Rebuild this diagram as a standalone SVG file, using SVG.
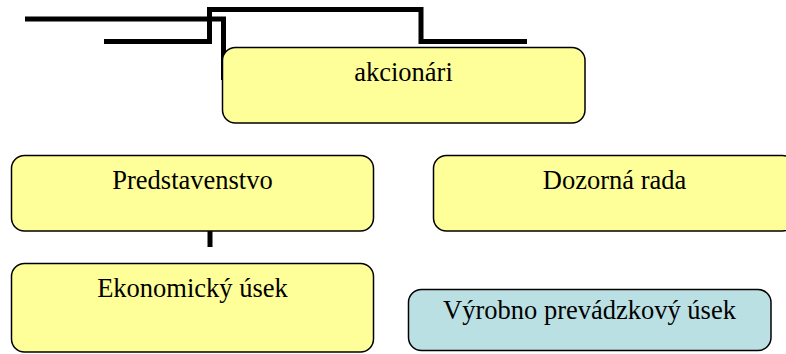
<svg xmlns="http://www.w3.org/2000/svg" width="786" height="354" viewBox="0 0 786 354">
<style>
.box{stroke:#000;stroke-width:1.5}
.y{fill:#FFFF99}
.b{fill:#BBE0E3}
.t{font-family:"Liberation Serif","Times New Roman",serif;font-size:26.5px;fill:#000;text-anchor:middle}
.c{fill:none;stroke:#000;stroke-width:5}
</style>
<rect width="786" height="354" fill="#fff"/>
<g id="connectors">
<path class="c" d="M25,19 H223.5 V80"/>
<path class="c" d="M104,41.5 H209.5 V9.5 H421 V41.5 H527"/>
<path class="c" d="M210,231 V247"/>
</g>
<g id="akcionari">
<rect class="box y" x="222.5" y="47.5" width="362.5" height="75.5" rx="13"/>
<text class="t" x="403.5" y="81">akcionári</text>
</g>
<g id="predstavenstvo">
<rect class="box y" x="11.5" y="155.5" width="362" height="75.5" rx="13"/>
<text class="t" x="192.5" y="189">Predstavenstvo</text>
</g>
<g id="dozorna">
<rect class="box y" x="433.5" y="155.5" width="362" height="75.5" rx="13"/>
<text class="t" x="614.5" y="189">Dozorná rada</text>
</g>
<g id="ekonomicky">
<rect class="box y" x="11.5" y="263.5" width="362" height="88.5" rx="13"/>
<text class="t" x="192.5" y="297">Ekonomický úsek</text>
</g>
<g id="vyrobno">
<rect class="box b" x="408.5" y="289.5" width="362.5" height="61" rx="13"/>
<text class="t" x="589.5" y="319">Výrobno prevádzkový úsek</text>
</g>
</svg>
